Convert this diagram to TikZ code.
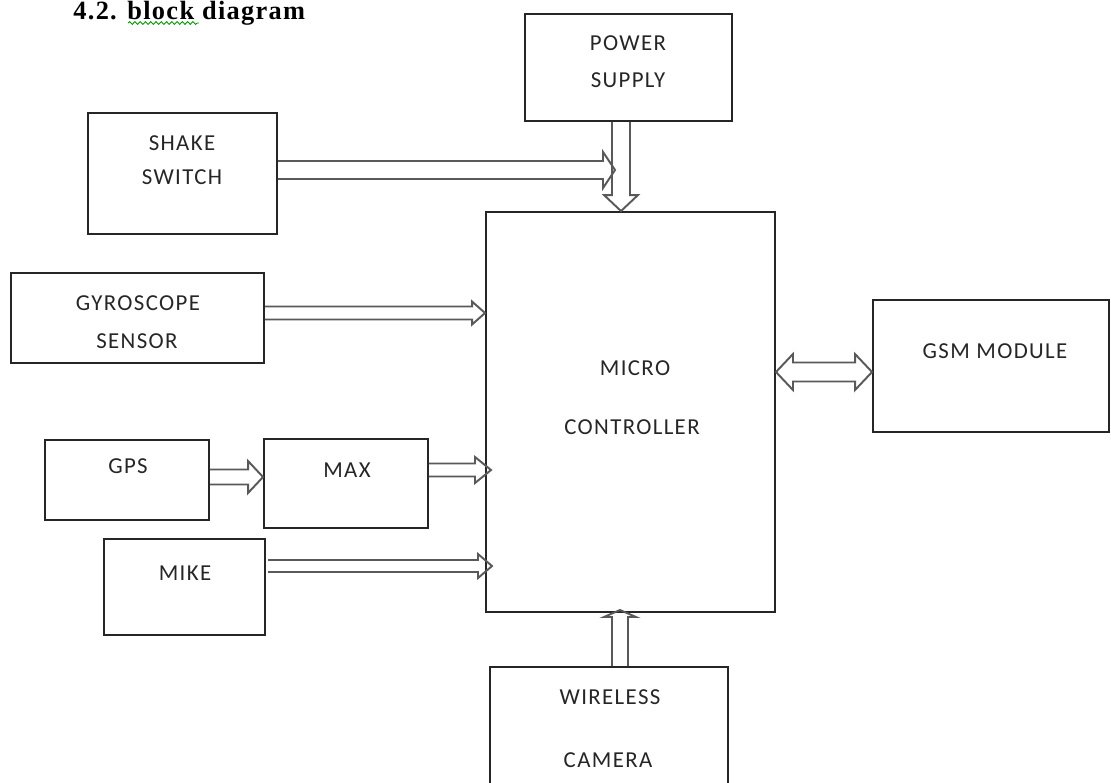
\documentclass[tikz,border=0pt]{standalone}
\usepackage{fontspec}
\usepackage{tikz}
\usetikzlibrary{calc,decorations.pathmorphing}

\newfontfamily\labelfont[LetterSpace=6]{Carlito}
\newfontfamily\titlefont[LetterSpace=5]{Liberation Serif}
\def\pxu{0.569pt}

% hollow block arrow: from, to, shaft half width, head half width, head length (px)
\newcommand{\blockarrow}[5]{%
  \draw[blockline] let \p1=($(#2)-(#1)$), \n1={veclen(\x1,\y1)}, \n2={atan2(\y1,\x1)} in
    [shift={(#1)}, rotate=\n2]
    (0pt,{#3*\pxu}) -- ({\n1-#5*\pxu},{#3*\pxu}) -- ({\n1-#5*\pxu},{#4*\pxu}) -- (\n1,0pt)
    -- ({\n1-#5*\pxu},{-#4*\pxu}) -- ({\n1-#5*\pxu},{-#3*\pxu}) -- (0pt,{-#3*\pxu});}
% same, with a head at both ends
\newcommand{\dblockarrow}[5]{%
  \draw[blockline] let \p1=($(#2)-(#1)$), \n1={veclen(\x1,\y1)}, \n2={atan2(\y1,\x1)} in
    [shift={(#1)}, rotate=\n2]
    (0pt,0pt) -- ({#5*\pxu},{#4*\pxu}) -- ({#5*\pxu},{#3*\pxu}) -- ({\n1-#5*\pxu},{#3*\pxu})
    -- ({\n1-#5*\pxu},{#4*\pxu}) -- (\n1,0pt) -- ({\n1-#5*\pxu},{-#4*\pxu})
    -- ({\n1-#5*\pxu},{-#3*\pxu}) -- ({#5*\pxu},{-#3*\pxu}) -- ({#5*\pxu},{-#4*\pxu}) -- cycle;}

\begin{document}
\begin{tikzpicture}[x=0.02cm, y=-0.02cm,
  box/.style={draw=black!85, line width=1.1pt, inner sep=0pt},
  boxsize/.style args={#1x#2}{minimum width=#1*0.02cm, minimum height=#2*0.02cm},
  lbl/.style={font=\labelfont\fontsize{13}{15}\selectfont, text=black!85, inner sep=0pt},
  blockline/.style={draw=black!65, line width=1.1pt, line join=miter}]

\clip (0,0) rectangle (1111,782);

% title
\node[font=\titlefont\bfseries\fontsize{15}{18}\selectfont, anchor=base west, inner sep=0pt] (title) at (73,19) {4.2. block diagram};
\draw[green!60!black, line width=0.5pt, decorate, decoration={snake, amplitude=0.8pt, segment length=3pt}] (128,23) -- (199,23);

% blocks
\node[box, boxsize=207x107] (power) at (628.5,67.5) {};
\node[box, boxsize=189x121] (shake) at (182.5,173.5) {};
\node[box, boxsize=253x90] (gyro) at (137.5,318) {};
\node[box, boxsize=289x400] (mcu) at (630.5,412) {};
\node[box, boxsize=236x132] (gsm) at (991,366) {};
\node[box, boxsize=164x80] (gps) at (127,480) {};
\node[box, boxsize=164x89] (max) at (346,483.5) {};
\node[box, boxsize=161x96] (mike) at (184.5,587) {};
\node[box, boxsize=238x140] (camera) at (609,737) {};

% labels
\node[lbl] (powert1) at (628,43) {POWER};
\node[lbl] (powert2) at (628,80) {SUPPLY};
\node[lbl] (shaket1) at (182,143) {SHAKE};
\node[lbl] (shaket2) at (182,177) {SWITCH};
\node[lbl] (gyrot1) at (138,303) {GYROSCOPE};
\node[lbl] (gyrot2) at (137,341) {SENSOR};
\node[lbl] (mcut1) at (635,368) {MICRO};
\node[lbl] (mcut2) at (632,427) {CONTROLLER};
\node[lbl] (gsmt) at (995,351) {GSM MODULE};
\node[lbl] (gpst) at (128,466) {GPS};
\node[lbl] (maxt) at (347,470) {MAX};
\node[lbl] (miket) at (185,573) {MIKE};
\node[lbl] (camerat1) at (610,697) {WIRELESS};
\node[lbl] (camerat2) at (608,760) {CAMERA};

% arrow ends
\coordinate (shakeout) at (shake.east |- 0,170);
\coordinate (shaketip) at (615,170);
\coordinate (powerout) at (power.south -| 621,0);
\coordinate (powertip) at (mcu.north -| 621,0);
\coordinate (gyroout) at (gyro.east |- 0,313);
\coordinate (gyrotip) at (mcu.west |- 0,313);
\coordinate (gpsout) at (gps.east |- 0,477);
\coordinate (gpstip) at (max.west |- 0,477);
\coordinate (maxout) at (max.east |- 0,470);
\coordinate (maxtip) at (491,470);
\coordinate (mikeout) at (268,566);
\coordinate (miketip) at (492,566);
\coordinate (gsmleft) at (mcu.east |- 0,372);
\coordinate (gsmright) at (gsm.west |- 0,372);
\coordinate (cameraout) at (camera.north -| 620,0);
\coordinate (cameratip) at (620,610);

% connectors
\blockarrow{shakeout}{shaketip}{9}{18}{12}
\blockarrow{powerout}{powertip}{9}{17}{16}
\blockarrow{gyroout}{gyrotip}{6.5}{11.5}{13}
\blockarrow{gpsout}{gpstip}{7.5}{16}{15}
\blockarrow{maxout}{maxtip}{6.5}{13}{16}
\blockarrow{mikeout}{miketip}{6}{12}{14}
\dblockarrow{gsmleft}{gsmright}{9.5}{18}{17}
\blockarrow{cameraout}{cameratip}{8}{16}{7}

\end{tikzpicture}
\end{document}
